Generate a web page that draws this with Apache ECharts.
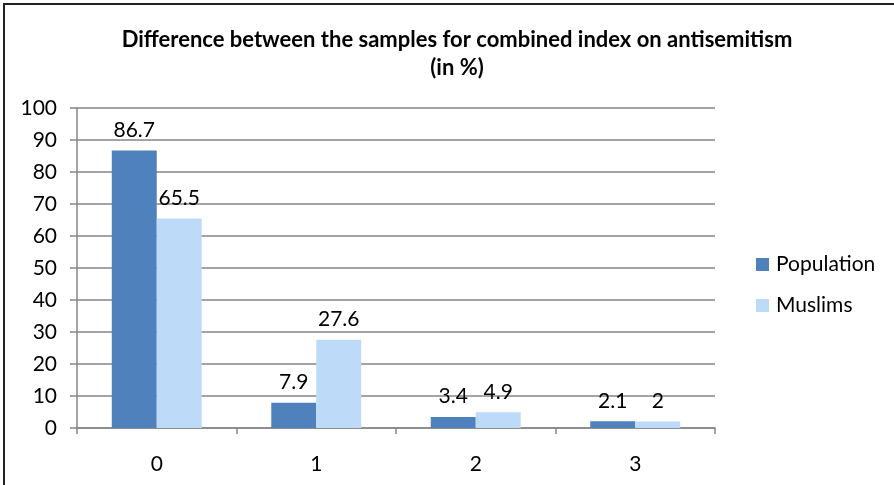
<!DOCTYPE html>
<html>
<head>
<meta charset="utf-8">
<style>
  html, body { margin: 0; padding: 0; background: #fff; }
  #chart { width: 894px; height: 485px; }
</style>
<script src="https://cdn.jsdelivr.net/npm/echarts@6/dist/echarts.min.js"></script>
</head>
<body>
<div id="chart"></div>
<script>
// Share of respondents by combined antisemitism index score
const categories = ['0', '1', '2', '3'];
const population = [86.7, 7.9, 3.4, 2.1];
const muslims = [65.5, 27.6, 4.9, 2];
const yTicks = [0, 10, 20, 30, 40, 50, 60, 70, 80, 90, 100];

const FONT = 'Lato, "Open Sans", sans-serif';
const chart = echarts.init(document.getElementById('chart'), null, { renderer: 'canvas' });

const labelStyle = {
  show: true,
  position: 'top',
  distance: 10,
  color: '#000',
  fontFamily: FONT,
  fontSize: 21
};

chart.setOption({
  animation: false,
  backgroundColor: '#fff',
  title: {
    text: 'Difference between the samples for combined index on antisemitism\n(in %)',
    left: 452,
    textAlign: 'center',
    top: 21,
    textStyle: {
      fontFamily: FONT,
      fontWeight: 'bold',
      fontSize: 22,
      lineHeight: 28,
      color: '#000'
    }
  },
  legend: {
    orient: 'vertical',
    left: 751,
    top: 249,
    itemWidth: 13,
    itemHeight: 13,
    itemGap: 20,
    icon: 'rect',
    textStyle: { fontFamily: FONT, fontSize: 21, color: '#000', padding: [0, 0, 0, 2] },
    data: ['Population', 'Muslims']
  },
  grid: { left: 77, right: 179, top: 108, bottom: 57, containLabel: false },
  xAxis: {
    type: 'category',
    data: categories,
    axisLine: { lineStyle: { color: '#868686', width: 1.5 } },
    axisTick: { show: true, length: 6, lineStyle: { color: '#868686', width: 1.5 } },
    axisLabel: { color: '#000', fontFamily: FONT, fontSize: 21, margin: 26 }
  },
  yAxis: {
    type: 'value',
    min: yTicks[0],
    max: yTicks[yTicks.length - 1],
    interval: yTicks[1] - yTicks[0],
    axisLine: { show: true, lineStyle: { color: '#868686', width: 1.5 } },
    axisTick: { show: true, length: 7, lineStyle: { color: '#868686', width: 1.5 } },
    splitLine: { lineStyle: { color: '#868686', width: 1.5 } },
    axisLabel: { color: '#000', fontFamily: FONT, fontSize: 21, margin: 20 }
  },
  series: [
    {
      name: 'Population',
      type: 'bar',
      data: population,
      barGap: '0%',
      barCategoryGap: '43.6%',
      itemStyle: { color: '#4F81BD' },
      label: labelStyle
    },
    {
      name: 'Muslims',
      type: 'bar',
      data: muslims,
      barGap: '0%',
      barCategoryGap: '43.6%',
      itemStyle: { color: '#BDDBF9' },
      label: labelStyle
    }
  ],
  graphic: [
    {
      type: 'polyline',
      shape: { points: [[4, 485], [4, 4], [894, 4]] },
      style: { stroke: '#222', lineWidth: 2, fill: null }
    }
  ]
});
</script>
</body>
</html>
